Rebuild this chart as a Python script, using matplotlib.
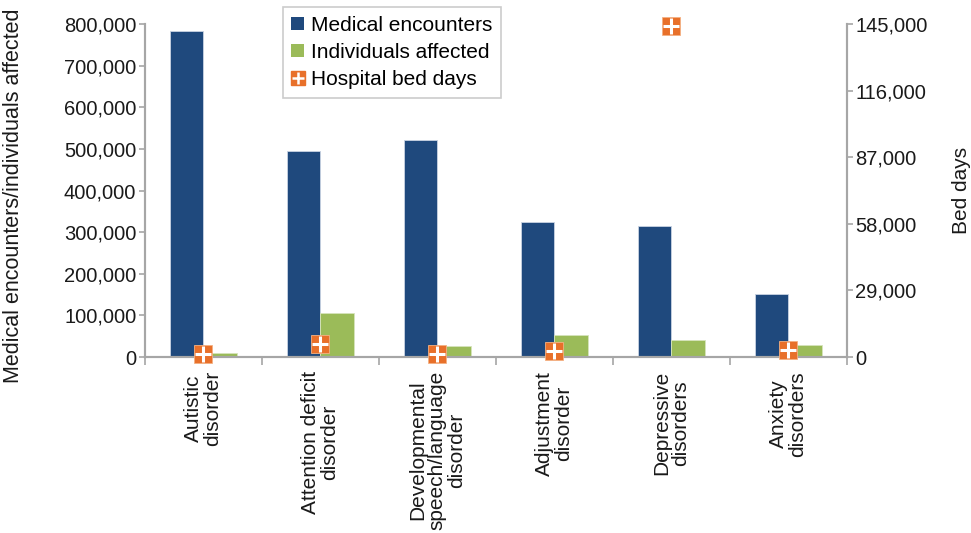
import numpy as np
import matplotlib.pyplot as plt
from matplotlib.lines import Line2D
from matplotlib.patches import Patch
from matplotlib.ticker import FuncFormatter

plt.rcParams['font.family'] = ['Liberation Sans', 'DejaVu Sans']

categories = [
    "Autistic\ndisorder",
    "Attention deficit\ndisorder",
    "Developmental\nspeech/language\ndisorder",
    "Adjustment\ndisorder",
    "Depressive\ndisorders",
    "Anxiety\ndisorders",
]
medical_encounters = [783000, 494000, 522000, 325000, 315000, 151000]
individuals_affected = [10000, 106000, 26000, 53000, 41000, 29000]
bed_days = [1300, 5700, 1300, 2600, 144000, 3000]

blue = "#1F497D"
green = "#9BBB59"
orange = "#E8702A"
gray = "#A6A6A6"
fs = 14.5

fig = plt.figure(figsize=(9.71, 5.33), dpi=100)
ax = fig.add_axes([0.149, 0.330, 0.723, 0.625])
ax2 = ax.twinx()

x = np.arange(len(categories))
w = 0.285
ax.bar(x - w / 2, medical_encounters, w, color=blue, edgecolor="#C9D3E3", linewidth=0.6)
ax.bar(x + w / 2, individuals_affected, w, color=green, edgecolor="#D6E4BC", linewidth=0.6)

ax2.plot(x, bed_days, ls="none", marker="s", ms=13.5, color=orange, mec="#F4B183", mew=0.6,
         clip_on=False, zorder=5)
ax2.plot(x, bed_days, ls="none", marker="+", ms=11, color="white", mew=2.2,
         clip_on=False, zorder=6)

ax.set_xlim(-0.5, len(categories) - 0.5)
ax.set_ylim(0, 800000)
ax2.set_ylim(0, 145000)
ax.set_yticks(np.arange(0, 800001, 100000))
ax2.set_yticks([0, 29000, 58000, 87000, 116000, 145000])
fmt = FuncFormatter(lambda v, p: f"{int(v):,}")
ax.yaxis.set_major_formatter(fmt)
ax2.yaxis.set_major_formatter(fmt)

ax.set_xticks(x)
ax.set_xticklabels(categories, rotation=90, ha="center", va="top", fontsize=15, color="#1a1a1a",
                   multialignment="center", linespacing=1.05)
ax.set_xticks(np.arange(-0.5, len(categories), 1), minor=True)
ax.tick_params(axis="x", which="major", length=0, pad=10)
ax.tick_params(axis="x", which="minor", length=6, color=gray, width=1.2)

for a in (ax, ax2):
    a.spines["top"].set_visible(False)
    for s in ("left", "right", "bottom"):
        a.spines[s].set_color(gray)
        a.spines[s].set_linewidth(1.5)
    a.tick_params(axis="y", labelsize=fs, length=4, pad=2, color=gray, width=1.2, labelcolor="#1a1a1a")

ax.set_ylabel("Medical encounters/individuals affected", fontsize=15.5, color="#1a1a1a")
ax.yaxis.set_label_coords(-0.172, 0.485)
ax2.set_ylabel("Bed days", fontsize=15, color="#1a1a1a", labelpad=18)

handles = [
    Patch(facecolor=blue),
    Patch(facecolor=green),
    (Line2D([], [], ls="none", marker="s", ms=10, color=orange),
     Line2D([], [], ls="none", marker="+", ms=8, color="white", mew=1.8)),
]
labels = ["Medical encounters", "Individuals affected", "Hospital bed days"]
leg = ax.legend(handles, labels, loc="upper left", bbox_to_anchor=(0.197, 1.05), fontsize=15,
                frameon=True, fancybox=False, edgecolor="#BFBFBF", handlelength=0.6, handleheight=0.6,
                handletextpad=0.35, borderpad=0.4, borderaxespad=0, labelspacing=0.4)
leg.get_frame().set_linewidth(1.2)

fig.savefig("out.png", dpi=100)
